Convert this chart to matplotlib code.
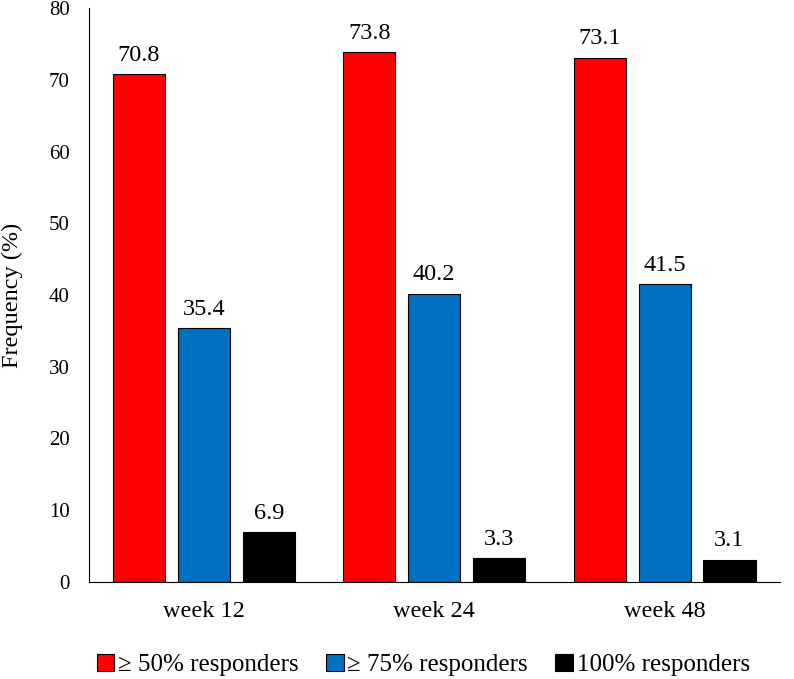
import matplotlib

matplotlib.use("Agg")
import matplotlib.pyplot as plt
import numpy as np

categories = ["week 12", "week 24", "week 48"]
series_names = ["\u2265 50% responders", "\u2265 75% responders", "100% responders"]
resp50 = [70.8, 73.8, 73.1]
resp75 = [35.4, 40.2, 41.5]
resp100 = [6.9, 3.3, 3.1]
colors = ["#FF0000", "#0070C0", "#000000"]

plt.rcParams["font.family"] = ["Liberation Serif", "DejaVu Serif"]

fig = plt.figure(figsize=(7.94, 6.79), dpi=100)
ax = fig.add_axes([0.1117, 0.1429, 0.8703, 0.8453])

x = np.arange(len(categories))
width = 0.226
offsets = [-0.282, 0.0, 0.282]
for vals, off, col, name in zip([resp50, resp75, resp100], offsets, colors, series_names):
    bars = ax.bar(x + off, vals, width, color=col, edgecolor="black", linewidth=0.8, label=name)
    for b, v in zip(bars, vals):
        ax.annotate(f"{v:.1f}", (b.get_x() + b.get_width() / 2, v), xytext=(0, 6),
                    textcoords="offset points", ha="center", va="bottom", fontsize=17.5)

ax.set_xlim(-0.5, 2.5)
ax.set_ylim(0, 80)
ax.set_yticks(np.arange(0, 81, 10))
ax.set_xticks(x)
ax.set_xticklabels(categories)
ax.tick_params(axis="both", length=0)
ax.tick_params(axis="y", pad=13.5, labelsize=15)
ax.tick_params(axis="x", pad=14, labelsize=17.5)
ax.spines["top"].set_visible(False)
ax.spines["right"].set_visible(False)
ax.set_ylabel("Frequency (%)", fontsize=17.5, va="center")
ax.yaxis.set_label_coords(-0.111, 0.5)

fig.legend(loc="center", bbox_to_anchor=(0.533, 0.0206), ncol=3, frameon=False, fontsize=18,
           handlelength=0.7, handleheight=0.7, handletextpad=0.15, columnspacing=1.1,
           borderpad=0, borderaxespad=0)

fig.savefig("out.png", dpi=100)
